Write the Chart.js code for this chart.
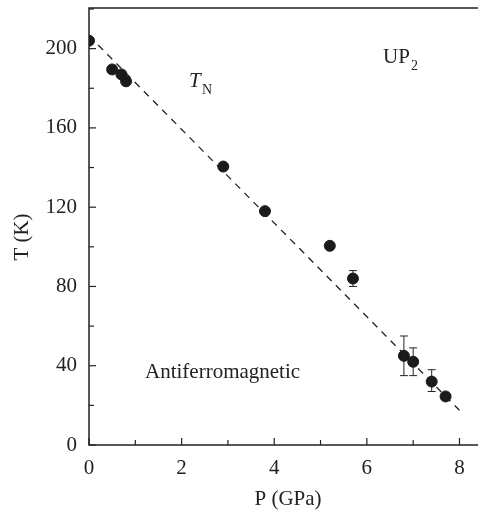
<!DOCTYPE html>
<html>
<head>
<meta charset="utf-8">
<script src="https://cdn.jsdelivr.net/npm/chart.js@4.4.1/dist/chart.umd.min.js"></script>
<style>
  html, body { margin: 0; padding: 0; background: #fff; overflow: hidden; }
  #wrap { width: 478px; height: 514px; position: relative; }
</style>
</head>
<body>
<div id="wrap"><canvas id="c"></canvas></div>
<script>
// measured points: pressure (GPa), Neel temperature (K), error (K)
const pressure = [0, 0.5, 0.7, 0.8, 2.9, 3.8, 5.2, 5.7, 6.8, 7.0, 7.4, 7.7];
const tempN    = [204, 189.5, 187, 183.5, 140.5, 118, 100.5, 84, 45, 42, 32, 24.5];
const errHi    = [0, 0, 0, 0, 0, 0, 0, 4, 10, 7, 6, 0];
const errLo    = [0, 0, 0, 0, 0, 0, 0, 4, 10, 7, 5, 0];

// dashed T_N guide line end points
const fitP = [0, 8];
const fitT = [206.5, 17.5];

const xTicks = [0, 2, 4, 6, 8];
const yTicks = [0, 40, 80, 120, 160, 200];

const FONT = '"Liberation Serif", "Times New Roman", serif';

// error bars + inward tick marks + frame + text labels
const decorPlugin = {
  id: 'decor',
  afterDatasetsDraw(chart) {
    const { ctx, chartArea: a, scales: { x, y } } = chart;
    ctx.save();
    ctx.strokeStyle = '#222';
    ctx.lineWidth = 1;
    // error bars
    pressure.forEach((p, i) => {
      if (!errHi[i] && !errLo[i]) return;
      const px = x.getPixelForValue(p);
      const top = y.getPixelForValue(tempN[i] + errHi[i]);
      const bot = y.getPixelForValue(tempN[i] - errLo[i]);
      ctx.beginPath();
      ctx.moveTo(px, top); ctx.lineTo(px, bot);
      ctx.moveTo(px - 4, top); ctx.lineTo(px + 4, top);
      ctx.moveTo(px - 4, bot); ctx.lineTo(px + 4, bot);
      ctx.stroke();
    });
    // frame: left, bottom, top
    ctx.lineWidth = 1.5;
    ctx.beginPath();
    ctx.moveTo(a.right, a.top); ctx.lineTo(a.left, a.top);
    ctx.lineTo(a.left, a.bottom); ctx.lineTo(a.right, a.bottom);
    ctx.stroke();
    // ticks pointing inward
    ctx.lineWidth = 1.2;
    for (let v = 0; v <= 8; v += 1) {
      const px = x.getPixelForValue(v);
      const len = v % 2 === 0 ? 7 : 5;
      ctx.beginPath(); ctx.moveTo(px, a.bottom); ctx.lineTo(px, a.bottom - len); ctx.stroke();
    }
    for (let v = 0; v <= 220; v += 20) {
      const py = y.getPixelForValue(v);
      const len = v % 40 === 0 ? 7 : 5;
      ctx.beginPath(); ctx.moveTo(a.left, py); ctx.lineTo(a.left + len, py); ctx.stroke();
    }
    // labels in the plot
    ctx.fillStyle = '#222';
    ctx.textBaseline = 'alphabetic';
    ctx.font = 'italic 21px ' + FONT;
    ctx.fillText('T', 189, 87);
    ctx.font = '14px ' + FONT;
    ctx.fillText('N', 202, 94);
    ctx.font = '21px ' + FONT;
    ctx.fillText('UP', 383, 63);
    ctx.font = '14px ' + FONT;
    ctx.fillText('2', 411, 70);
    ctx.font = '21px ' + FONT;
    ctx.fillText('Antiferromagnetic', 145, 378);
    // axis titles
    ctx.textAlign = 'center';
    ctx.fillText('P (GPa)', 288, 505);
    ctx.translate(28, 237);
    ctx.rotate(-Math.PI / 2);
    ctx.fillText('T (K)', 0, 0);
    ctx.restore();
  }
};

new Chart(document.getElementById('c'), {
  type: 'scatter',
  data: {
    datasets: [
      {
        data: fitP.map((p, i) => ({ x: p, y: fitT[i] })),
        showLine: true,
        borderColor: '#222',
        borderWidth: 1.3,
        borderDash: [7, 6],
        pointRadius: 0,
        fill: false
      },
      {
        data: pressure.map((p, i) => ({ x: p, y: tempN[i] })),
        backgroundColor: '#1a1a1a',
        borderColor: '#1a1a1a',
        pointRadius: 5.5,
        pointHoverRadius: 5.5
      }
    ]
  },
  options: {
    responsive: true,
    maintainAspectRatio: false,
    animation: false,
    layout: { autoPadding: false, padding: { left: 0, right: 0, top: 8, bottom: 0 } },
    plugins: { legend: { display: false }, tooltip: { enabled: false } },
    scales: {
      x: {
        type: 'linear',
        min: 0, max: 8.4,
        afterBuildTicks: s => { s.ticks = xTicks.map(v => ({ value: v })); },
        afterFit: s => { s.height = 69; s.paddingLeft = 0; s.paddingRight = 0; },
        grid: { display: false, drawTicks: false },
        border: { display: false },
        ticks: { color: '#222', font: { family: FONT, size: 21 }, padding: 11, maxRotation: 0 },
        title: { display: false }
      },
      y: {
        type: 'linear',
        min: 0, max: 220.5,
        afterBuildTicks: s => { s.ticks = yTicks.map(v => ({ value: v })); },
        afterFit: s => { s.width = 89; s.paddingTop = 0; s.paddingBottom = 0; },
        grid: { display: false, drawTicks: false },
        border: { display: false },
        ticks: { color: '#222', font: { family: FONT, size: 21 }, padding: 12 },
        title: { display: false }
      }
    }
  },
  plugins: [decorPlugin]
});
</script>
</body>
</html>
